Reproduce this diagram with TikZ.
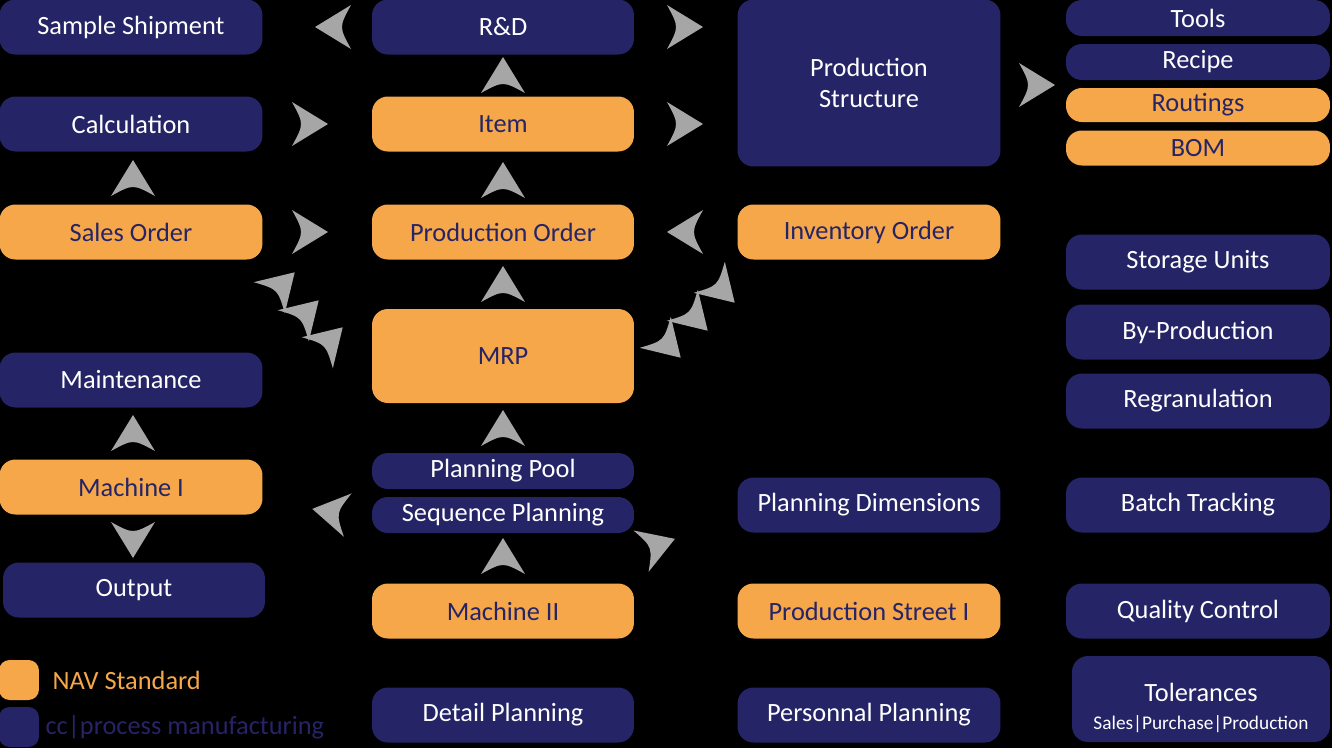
\documentclass[tikz,border=0pt]{standalone}
\usepackage{fontspec}
\setmainfont{Carlito}
\usetikzlibrary{positioning}
\definecolor{navy}{HTML}{252466}
\definecolor{nav}{HTML}{F6A74A}
\definecolor{chevgrey}{HTML}{A6A6A6}
\begin{document}
\begin{tikzpicture}[
    x=0.02cm, y=-0.02cm,
    box/.style={rounded corners=9pt, inner sep=0pt, font=\fontsize{15}{18}\selectfont, align=center},
    cc/.style={box, fill=navy, text=white},
    std/.style={box, fill=nav, text=navy},
    chev/.pic={\fill[chevgrey] (18,0) -- (-18,22) .. controls (-6,0) .. (-18,-22) -- cycle;}
]
\fill[black] (0,0) rectangle (1332,748);
\useasboundingbox (0,0) rectangle (1332,748);

% column one
\node[cc, minimum width=5.26cm, minimum height=1.1cm] (ship) at (131,27) {Sample Shipment};
\node[cc, minimum width=5.26cm, minimum height=1.1cm] (calc) at (131,124) {Calculation};
\node[std, minimum width=5.26cm, minimum height=1.1cm] (sales) at (131,232) {Sales Order};
\node[cc, minimum width=5.26cm, minimum height=1.1cm] (maint) at (131,380) {Maintenance};
\node[std, minimum width=5.26cm, minimum height=1.1cm] (mach1) at (131,487) {Machine I};
\node[cc, minimum width=5.24cm, minimum height=1.1cm] (output) at (134,590) {Output};

% column two
\node[cc, minimum width=5.24cm, minimum height=1.1cm] (rnd) at (503,27) {R\&D};
\node[std, minimum width=5.24cm, minimum height=1.1cm] (item) at (503,124) {Item};
\node[std, minimum width=5.24cm, minimum height=1.1cm] (prodorder) at (503,232) {Production Order};
\node[std, minimum width=5.24cm, minimum height=1.88cm] (mrp) at (503,356) {MRP};
\node[cc, minimum width=5.24cm, minimum height=0.72cm] (pool) at (503,471) {Planning Pool};
\node[cc, minimum width=5.24cm, minimum height=0.72cm] (seq) at (503,515) {Sequence Planning};
\node[std, minimum width=5.24cm, minimum height=1.1cm] (mach2) at (503,611) {Machine II};
\node[cc, minimum width=5.24cm, minimum height=1.1cm] (detail) at (503,715) {Detail Planning};

% column three
\node[cc, minimum width=5.26cm, minimum height=3.34cm] (struct) at (869,83) {Production\\Structure};
\node[std, minimum width=5.26cm, minimum height=1.1cm] (inv) at (869,232) {Inventory Order};
\node[cc, minimum width=5.26cm, minimum height=1.1cm] (dims) at (869,505) {Planning Dimensions};
\node[std, minimum width=5.26cm, minimum height=1.1cm] (street) at (869,611) {Production Street I};
\node[cc, minimum width=5.26cm, minimum height=1.1cm] (personnal) at (869,715) {Personnal Planning};

% column four
\node[cc, minimum width=5.28cm, minimum height=0.72cm] (tools) at (1198,18) {Tools};
\node[cc, minimum width=5.28cm, minimum height=0.72cm] (recipe) at (1198,62) {Recipe};
\node[std, minimum width=5.28cm, minimum height=0.68cm] (routings) at (1198,105) {Routings};
\node[std, minimum width=5.28cm, minimum height=0.7cm] (bom) at (1198,148) {BOM};
\node[cc, minimum width=5.28cm, minimum height=1.1cm] (storage) at (1198,262) {Storage Units};
\node[cc, minimum width=5.28cm, minimum height=1.1cm] (byprod) at (1198,332) {By-Production};
\node[cc, minimum width=5.28cm, minimum height=1.1cm] (regran) at (1198,401) {Regranulation};
\node[cc, minimum width=5.28cm, minimum height=1.1cm] (batch) at (1198,505) {Batch Tracking};
\node[cc, minimum width=5.28cm, minimum height=1.1cm] (quality) at (1198,611) {Quality Control};
\node[cc, minimum width=5.16cm, minimum height=1.72cm, text height=1.3cm] (tol) at (1201,699) {Tolerances\\[-2pt]{\fontsize{11}{13}\selectfont Sales|Purchase|Production}};

% legend
\node[std, minimum size=0.8cm, rounded corners=6pt] (keystd) at (19,680) {};
\node[cc, minimum size=0.8cm, rounded corners=6pt] (keycc) at (19,727) {};
\node[right=4pt of keystd, font=\fontsize{15}{18}\selectfont, text=nav] (keystdtext) {NAV Standard};
\node[right=0pt of keycc, font=\fontsize{15}{18}\selectfont, text=navy] (keycctext) {cc|process manufacturing};

% arrowheads
\pic[rotate=180] at (333,27) {chev};
\pic at (685,27) {chev};
\pic[rotate=90] at (503,75) {chev};
\pic at (310,124) {chev};
\pic at (685,124) {chev};
\pic at (1037,85) {chev};
\pic[rotate=90] at (133,178) {chev};
\pic[rotate=90] at (503,180) {chev};
\pic at (310,232) {chev};
\pic[rotate=180] at (685,232) {chev};
\pic[rotate=90] at (503,284) {chev};
\foreach \x/\y in {282/285, 306/313, 330/340} \pic[rotate=45] at (\x,\y) {chev};
\foreach \x/\y in {668/345, 695/318, 722/290} \pic[rotate=-45] at (\x,\y) {chev};
\pic[rotate=90] at (503,428) {chev};
\pic[rotate=90] at (133,433) {chev};
\pic[rotate=-90] at (133,540) {chev};
\pic[rotate=170] at (330,512) {chev};
\pic[rotate=90] at (503,556) {chev};
\pic[rotate=20] at (658,545) {chev};
\end{tikzpicture}
\end{document}
